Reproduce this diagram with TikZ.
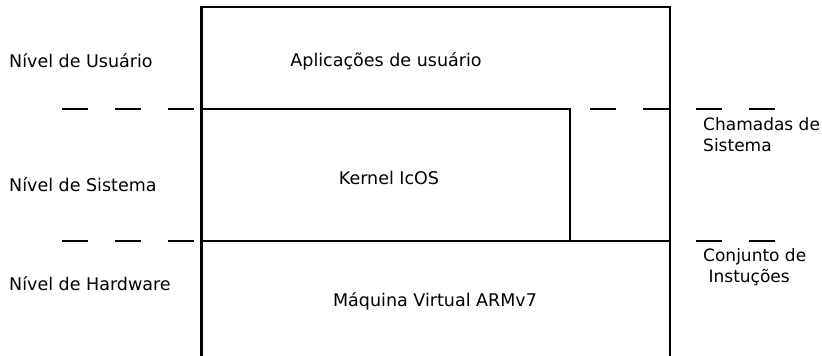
\documentclass[tikz,border=0pt]{standalone}
\usepackage{fontspec}
\setmainfont{DejaVu Sans}
\usetikzlibrary{positioning}

\begin{document}
\begin{tikzpicture}[x=1pt,y=-1pt,
  lbl/.style={font=\fontsize{17.5}{21}\selectfont, inner sep=0pt, anchor=base},
  nivel/.style={lbl, anchor=base west},
  nota/.style={lbl, anchor=north west, align=left, font=\fontsize{17}{21}\selectfont},
  borda/.style={line width=2.6pt},
  limite/.style={line width=2.4pt, dash pattern=on 26pt off 27pt}
]
\useasboundingbox (0,0) rectangle (822,356);

% Camadas
\coordinate (tl) at (201.5,7);
\coordinate (tr) at (670,7);
\coordinate (bl) at (201.5,356);
\coordinate (br) at (670,356);
\coordinate (ku) at (201.5,109);
\coordinate (kr) at (570,109);
\coordinate (hl) at (201.5,241);
\coordinate (kb) at (570,241);
\coordinate (hr) at (670,241);

\draw[borda] (bl) -- (tl) -- (tr) -- (br);
\draw[borda] (ku) -- (kr) -- (kb);
\draw[borda] (hl) -- (hr);

% Limites entre niveis
\coordinate (d1a) at (62,109);
\coordinate (d1b) at (590,109);
\coordinate (d1c) at (775,109);
\coordinate (d2a) at (62,241);
\coordinate (d2b) at (696,241);
\coordinate (d2c) at (775,241);
\draw[limite] (d1a) -- (ku);
\draw[limite] (d1b) -- (d1c);
\draw[limite] (d2a) -- (hl);
\draw[limite] (d2b) -- (d2c);

% Textos
\node[lbl] (app) at (386,66) {Aplicações de usuário};
\node[lbl] (kernel) at (389,184) {Kernel IcOS};
\node[lbl] (vm) at (435,306) {Máquina Virtual ARMv7};

\node[nivel] (usr) at (9,67) {Nível de Usuário};
\node[nivel] (sis) at (9,191) {Nível de Sistema};
\node[nivel] (hw) at (9,290) {Nível de Hardware};

\node[nota] (chamadas) at (703,117) {Chamadas de\\Sistema};
\node[nota] (conjunto) at (703,248) {Conjunto de\\\ Instuções};
\end{tikzpicture}
\end{document}
